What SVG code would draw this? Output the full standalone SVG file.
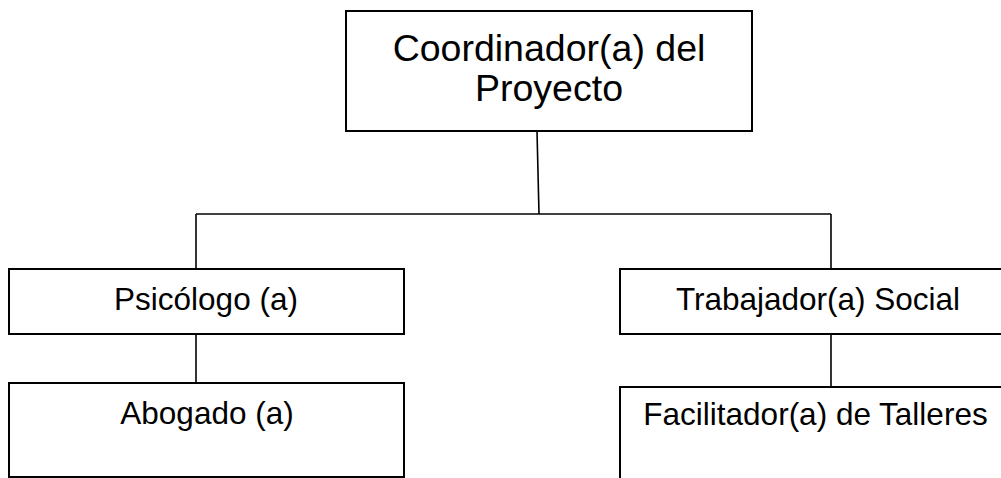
<svg xmlns="http://www.w3.org/2000/svg" width="1001" height="478" viewBox="0 0 1001 478">
<style>
.box{fill:#fff;stroke:#000;stroke-width:2}
.ln{stroke:#000;stroke-width:1.6;fill:none}
.t{font-family:"Liberation Sans",Arial,sans-serif;fill:#000;text-anchor:middle}
.big{font-size:37.5px}
.sm{font-size:31.5px}
</style>
<rect width="1001" height="478" fill="#fff"/>
<g id="connectors">
<line class="ln" x1="537" y1="131" x2="539" y2="214"/>
<line class="ln" x1="196" y1="214" x2="831" y2="214"/>
<line class="ln" x1="196" y1="214" x2="196" y2="269"/>
<line class="ln" x1="831" y1="214" x2="831" y2="269"/>
<line class="ln" x1="196" y1="334" x2="196" y2="386"/>
<line class="ln" x1="831" y1="334" x2="831" y2="387"/>
</g>
<g id="coordinador">
<rect class="box" x="346" y="11" width="406" height="120"/>
<text class="t big" x="549" y="61">Coordinador(a) del</text>
<text class="t big" x="549" y="101">Proyecto</text>
</g>
<g id="psicologo">
<rect class="box" x="9" y="269" width="395" height="65"/>
<text class="t sm" x="206" y="310">Psicólogo (a)</text>
</g>
<g id="abogado">
<rect class="box" x="9" y="383" width="395" height="94"/>
<text class="t sm" x="207" y="424">Abogado (a)</text>
</g>
<g id="trabajador">
<rect class="box" x="620" y="269" width="400" height="65"/>
<text class="t sm" x="818" y="310">Trabajador(a) Social</text>
</g>
<g id="facilitador">
<rect class="box" x="620" y="387" width="400" height="110"/>
<text class="t sm" x="815.5" y="425">Facilitador(a) de Talleres</text>
</g>
</svg>
